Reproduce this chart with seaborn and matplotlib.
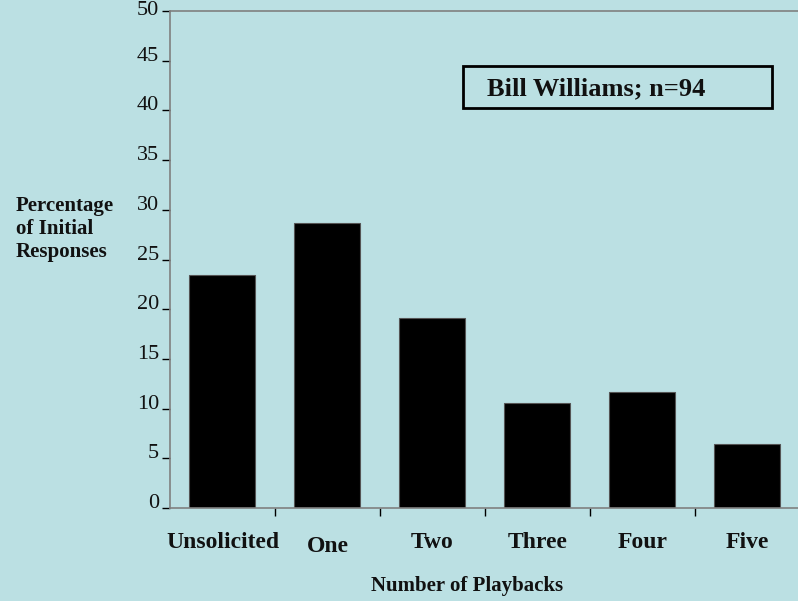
import matplotlib
matplotlib.use("Agg")
import matplotlib.pyplot as plt
from matplotlib.patches import Rectangle
import seaborn as sns
import pandas as pd

# data
categories = ["Unsolicited", "One", "Two", "Three", "Four", "Five"]
percentages = [23.4, 28.7, 19.1, 10.6, 11.7, 6.4]
y_ticks = [0, 5, 10, 15, 20, 25, 30, 35, 40, 45, 50]

bg = "#bbe0e3"
sns.set_theme(style="white")
plt.rcParams["font.family"] = ["Liberation Serif", "DejaVu Serif"]

df = pd.DataFrame({"Playbacks": categories, "Percent": percentages})

fig = plt.figure(figsize=(7.98, 6.01), dpi=100, facecolor=bg)
ax = fig.add_axes([0.213, 0.1547, 0.789, 0.827])
ax.set_facecolor(bg)

sns.barplot(data=df, x="Playbacks", y="Percent", color="black", width=0.63,
            edgecolor="#555555", linewidth=0.8, saturation=1, ax=ax)

ax.set_ylim(0, 50)
ax.set_xlim(-0.5, 5.5)
ax.set_yticks(y_ticks)
ax.set_yticklabels([str(t) for t in y_ticks], fontsize=16, color="#111111", va="baseline")
# top label is centred on its tick (it would be cut off otherwise)
ax.get_yticklabels()[-1].set_va("center")

# category ticks sit between the bars
ax.set_xticks([i + 0.5 for i in range(len(categories) - 1)])
ax.set_xticklabels([])
ax.tick_params(axis="x", direction="out", length=6, width=1, color="black", bottom=True)
ax.tick_params(axis="y", direction="out", length=6, width=1, color="black", left=True, pad=2)

for i, c in enumerate(categories):
    y = -0.077 if c == "One" else -0.07
    ax.text(i, y, c, transform=ax.get_xaxis_transform(), ha="center", va="center",
            fontsize=17, fontweight="bold", color="#111111")

for s in ["left", "bottom", "top"]:
    ax.spines[s].set_color("#808080")
    ax.spines[s].set_linewidth(1.2)
ax.spines["right"].set_visible(False)

ax.set_xlabel("")
ax.set_ylabel("")
fig.text(0.585, 1 - 586 / 601, "Number of Playbacks", ha="center", va="center",
         fontsize=15, fontweight="bold", color="#111111")
fig.text(0.02, 1 - 229 / 601, "Percentage\nof Initial\nResponses", ha="left", va="center",
         fontsize=15, fontweight="bold", color="#111111", linespacing=1.22)

# label box
fig.patches.append(Rectangle((463 / 798, 1 - 108 / 601), 309 / 798, 42 / 601,
                             transform=fig.transFigure, facecolor=bg,
                             edgecolor="black", linewidth=2))
fig.text(487 / 798, 1 - 89 / 601, "Bill Williams; n=94", ha="left", va="center",
         fontsize=19, fontweight="bold", color="#111111")

fig.savefig("out.png", dpi=100, facecolor=bg)
